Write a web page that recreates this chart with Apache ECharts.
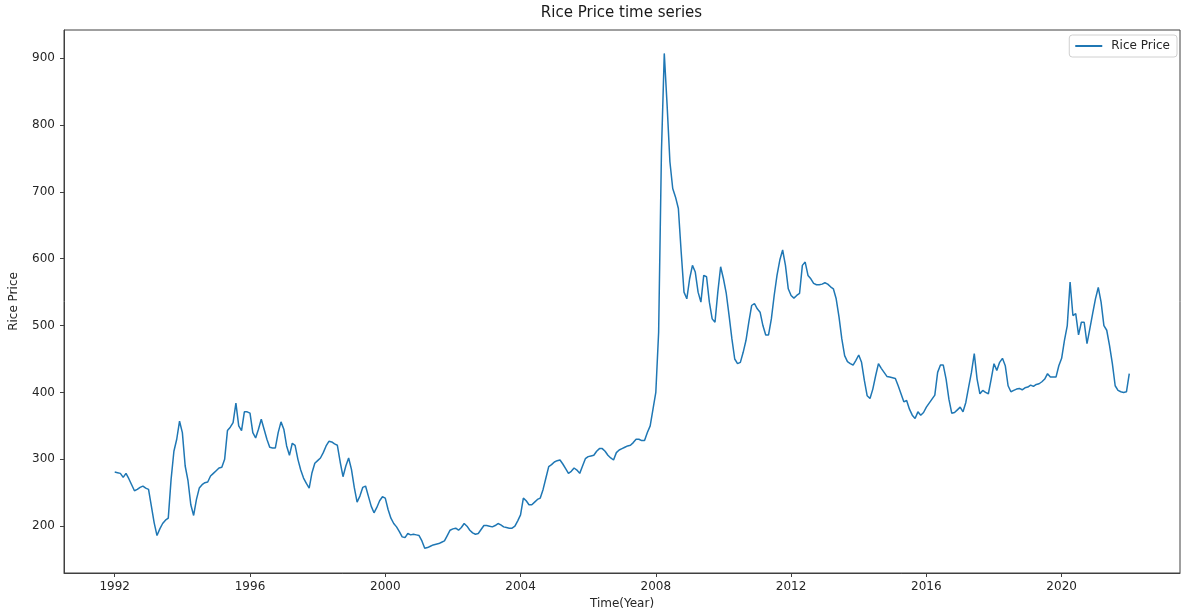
<!DOCTYPE html>
<html>
<head>
<meta charset="utf-8">
<title>Rice Price time series</title>
<script src="https://cdn.jsdelivr.net/npm/echarts@6/dist/echarts.min.js"></script>
<style>
  html, body { margin: 0; padding: 0; background: #ffffff; }
  #chart { width: 1182px; height: 616px; }
</style>
</head>
<body>
<div id="chart"></div>
<script>
// Monthly rice price, starting January 1992
const startYear = 1992;

const price1992to1999 = [
  281, 280, 279, 273, 279, 271, 262, 253, 255, 258, 260, 257,
  255, 230, 205, 186, 196, 204, 209, 212, 270, 312, 330, 357,
  340, 290, 268, 232, 216, 240, 257, 262, 265, 266, 275, 279,
  283, 287, 288, 300, 343, 348, 355, 384, 350, 343, 371, 371,
  369, 340, 332, 345, 360, 345, 330, 318, 317, 317, 340, 356,
  345, 320, 306, 324, 321, 300, 284, 272, 264, 257, 280, 294,
  298, 302, 310, 320, 327, 326, 323, 321, 296, 274, 290, 302,
  285, 258, 236, 245, 258, 260, 245, 230, 220, 228, 238, 244
];

const price2000to2009 = [
  242, 225, 212, 204, 199, 192, 184, 183, 189, 187, 188, 187,
  186, 178, 167, 168, 170, 172, 173, 174, 176, 178, 186, 194,
  196, 197, 194, 198, 204, 200, 194, 190, 188, 189, 195, 201,
  201, 200, 199, 201, 204, 202, 199, 198, 197, 197, 200, 208,
  217, 242, 238, 232, 232, 236, 240, 242, 255, 272, 289, 292,
  296, 298, 299, 293, 286, 279, 282, 287, 284, 279, 290, 301,
  304, 305, 306, 312, 316, 316, 312, 306, 302, 299, 310, 314,
  316, 318, 320, 321, 325, 330, 330, 328, 328, 340, 350, 375,
  400, 490, 760, 907, 830, 745, 705, 692, 675, 610, 550, 540,
  570, 590, 580, 550, 535, 575, 573, 535, 510, 505, 550, 588
];

const price2010to2019 = [
  570, 548, 515, 480, 450, 443, 445, 460, 478, 505, 530, 533,
  525, 520, 500, 486, 486, 510, 545, 575, 598, 613, 590, 555,
  545, 541, 545, 548, 590, 595, 575, 570, 563, 561, 561, 562,
  564, 562, 558, 555, 540, 513, 480, 455, 446, 443, 441, 448,
  456, 445, 418, 395, 391, 405, 425, 443, 436, 430, 424, 423,
  422, 421, 410, 398, 386, 388, 375, 366, 361, 371, 366, 370,
  378, 384, 390, 396, 430, 441, 441, 420, 390, 369, 370, 374,
  378, 371, 385, 408, 430, 458, 420, 398, 403, 400, 398, 420,
  443, 433, 445, 451, 440, 410, 401, 403, 405, 406, 404, 407,
  408, 411, 409, 412, 413, 416, 420, 428, 423, 423, 423, 440
];

const price2020to2022 = [
  451, 478, 500, 565, 515, 518, 486, 505, 505, 473, 495, 518,
  540, 557, 535, 500, 493, 470, 443, 410, 403, 401, 400, 401,
  428
];

const yearTicks = [1992, 1996, 2000, 2004, 2008, 2012, 2016, 2020];
const priceTicks = [200, 300, 400, 500, 600, 700, 800, 900];

const prices = price1992to1999.concat(price2000to2009, price2010to2019, price2020to2022);
const seriesData = prices.map((v, i) => [startYear + i / 12, v]);

const textColor = '#262626';
const spineColor = '#404040';
const fontFamily = '"DejaVu Sans", sans-serif';

// plot box edges in pixels
const plotLeft = 63, plotRight = 2, plotTop = 30, plotBottom = 43;
const plotCenterX = plotLeft + (1182 - plotLeft - plotRight) / 2;

const chart = echarts.init(document.getElementById('chart'), null, { renderer: 'canvas' });

chart.setOption({
  animation: false,
  backgroundColor: '#ffffff',
  textStyle: { fontFamily: fontFamily },
  title: {
    text: 'Rice Price time series',
    left: plotCenterX,
    textAlign: 'center',
    top: 6,
    padding: 0,
    textStyle: { fontSize: 15, fontWeight: 'normal', color: '#1a1a1a', fontFamily: fontFamily }
  },
  legend: {
    right: 5,
    top: 35,
    orient: 'horizontal',
    padding: [5, 7, 5, 6],
    itemWidth: 27,
    itemHeight: 2,
    itemGap: 9,
    borderColor: '#d0d0d0',
    borderWidth: 1,
    borderRadius: 3,
    backgroundColor: 'rgba(255,255,255,0.8)',
    textStyle: { fontSize: 12, color: textColor, fontFamily: fontFamily, padding: [0, 0, 0, 4] },
    data: [{ name: 'Rice Price', icon: 'rect' }]
  },
  grid: {
    left: plotLeft,
    right: plotRight,
    top: plotTop,
    bottom: plotBottom,
    show: true,
    borderColor: spineColor,
    borderWidth: 1,
    backgroundColor: '#ffffff'
  },
  xAxis: {
    type: 'value',
    min: 1990.5,
    max: 2023.5,
    name: 'Time(Year)',
    nameLocation: 'middle',
    nameGap: 25,
    nameTextStyle: { fontSize: 12, color: textColor, fontFamily: fontFamily },
    axisLine: { show: true, lineStyle: { color: spineColor, width: 1 } },
    axisTick: { show: true, length: 4, inside: false, customValues: yearTicks, lineStyle: { color: spineColor } },
    axisLabel: {
      customValues: yearTicks,
      margin: 8,
      fontSize: 12,
      color: textColor,
      fontFamily: fontFamily,
      formatter: (v) => String(Math.round(v))
    },
    splitLine: { show: false }
  },
  yAxis: {
    type: 'value',
    min: 130,
    max: 942,
    name: 'Rice Price',
    nameLocation: 'middle',
    nameGap: 44,
    nameRotate: 90,
    nameTextStyle: { fontSize: 12, color: textColor, fontFamily: fontFamily },
    axisLine: { show: true, lineStyle: { color: spineColor, width: 1 } },
    axisTick: { show: true, length: 4, inside: false, customValues: priceTicks, lineStyle: { color: spineColor } },
    axisLabel: {
      customValues: priceTicks,
      margin: 9,
      fontSize: 12,
      color: textColor,
      fontFamily: fontFamily,
      formatter: (v) => String(Math.round(v))
    },
    splitLine: { show: false }
  },
  series: [{
    name: 'Rice Price',
    type: 'line',
    data: seriesData,
    symbol: 'none',
    showSymbol: false,
    smooth: false,
    lineStyle: { color: '#1f77b4', width: 1.5 },
    itemStyle: { color: '#1f77b4' }
  }]
});
</script>
</body>
</html>
